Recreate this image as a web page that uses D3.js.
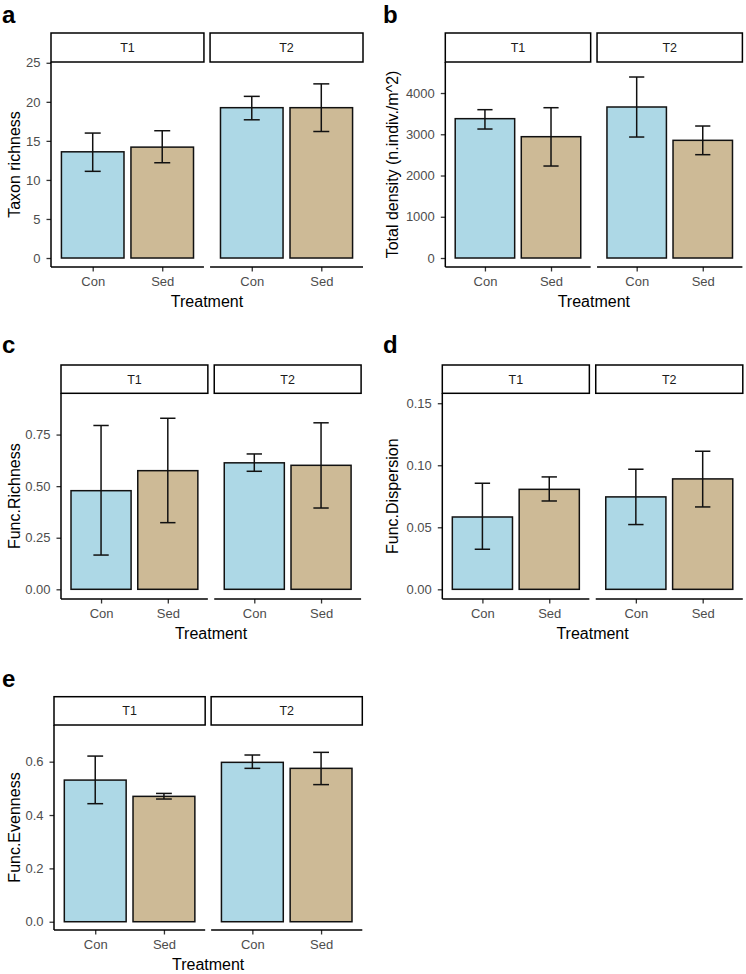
<!DOCTYPE html>
<html><head><meta charset="utf-8">
<script src="https://cdn.jsdelivr.net/npm/d3@7"></script>
<style>
body{margin:0;background:#fff;}
svg{display:block;font-family:"Liberation Sans",Arial,sans-serif;}
</style></head>
<body><svg id="c" width="746" height="974"></svg>
<script>
// ---- data ----
const facets = ["T1", "T2"];
const treatments = ["Con", "Sed"];
// order: T1-Con, T1-Sed, T2-Con, T2-Sed
const taxonMean = [13.6, 14.2, 19.25, 19.25];
const taxonLow  = [11.1, 12.2, 17.7, 16.2];
const taxonHigh = [16.0, 16.3, 20.7, 22.3];
const taxonTicks = [0, 5, 10, 15, 20, 25];

const densityMean = [3378, 2941, 3661, 2853];
const densityLow  = [3127, 2230, 2933, 2505];
const densityHigh = [3596, 3644, 4388, 3200];
const densityTicks = [0, 1000, 2000, 3000, 4000];

const fricMean = [0.478, 0.575, 0.613, 0.601];
const fricLow  = [0.166, 0.323, 0.572, 0.394];
const fricHigh = [0.794, 0.829, 0.656, 0.807];
const fricTicks = [0, 0.25, 0.5, 0.75];

const fdisMean = [0.0583, 0.0806, 0.0745, 0.089];
const fdisLow  = [0.0323, 0.0712, 0.0522, 0.0664];
const fdisHigh = [0.0855, 0.0906, 0.0968, 0.1113];
const fdisTicks = [0, 0.05, 0.10, 0.15];

const fevaMean = [0.531, 0.470, 0.5975, 0.575];
const fevaLow  = [0.4425, 0.460, 0.575, 0.514];
const fevaHigh = [0.621, 0.481, 0.625, 0.635];
const fevaTicks = [0, 0.2, 0.4, 0.6];

const colors = {Con: "#add8e6", Sed: "#cdba96"};

// ---- layout ----
const panels = [
  {tag:"a", tagX:2, tagY:23.3, x0:51, fw:150, gap:12, stripTop:33, top:62, bottom:267, dom:[-1.15,25.1],
   mean:taxonMean, low:taxonLow, high:taxonHigh, ticks:taxonTicks, fmt:d3.format("d"), ylab:"Taxon richness", ylabX:20},
  {tag:"b", tagX:383, tagY:23.3, x0:445.3, fw:142.3, gap:12.5, stripTop:33, top:62, bottom:267, dom:[-218,4752],
   mean:densityMean, low:densityLow, high:densityHigh, ticks:densityTicks, fmt:d3.format("d"), ylab:"Total density (n.indiv./m^2)", ylabX:397.5},
  {tag:"c", tagX:2, tagY:353.3, x0:61, fw:143.8, gap:12.5, stripTop:365, top:393.3, bottom:599, dom:[-0.047,0.950],
   mean:fricMean, low:fricLow, high:fricHigh, ticks:fricTicks, fmt:d3.format(".2f"), ylab:"Func.Richness", ylabX:20},
  {tag:"d", tagX:383, tagY:353.3, x0:442.3, fw:144, gap:12.5, stripTop:365, top:393.3, bottom:599, dom:[-0.0078,0.158],
   mean:fdisMean, low:fdisLow, high:fdisHigh, ticks:fdisTicks, fmt:d3.format(".2f"), ylab:"Func.Dispersion", ylabX:397.5},
  {tag:"e", tagX:2, tagY:686.7, x0:54, fw:148.3, gap:11.7, stripTop:696.7, top:725, bottom:930, dom:[-0.031,0.7375],
   mean:fevaMean, low:fevaLow, high:fevaHigh, ticks:fevaTicks, fmt:d3.format(".1f"), ylab:"Func.Evenness", ylabX:19.5}
];

const svg = d3.select("#c");
const FONT = "'Liberation Sans',Arial,sans-serif";

panels.forEach(p => {
  const g = svg.append("g");
  const y = d3.scaleLinear().domain(p.dom).range([p.bottom, p.top]);
  const fx = d3.scaleBand().domain(facets).range([p.x0, p.x0 + 2*p.fw + p.gap]).paddingInner(p.gap/(2*p.fw+p.gap)).paddingOuter(0);

  // panel tag
  g.append("text").attr("x", p.tagX).attr("y", p.tagY).attr("font-size", 24).attr("font-weight", "bold")
    .attr("fill", "#000").text(p.tag);

  facets.forEach((f, fi) => {
    const left = fx(f), w = fx.bandwidth();
    // ggplot geometry: categories at 0.6 and 1.6 units of a 2.2-unit range, bar width 0.9
    const ux = d3.scalePoint().domain(treatments).range([left + w*0.6/2.2, left + w*1.6/2.2]);
    const unit = w/2.2;

    // strip
    g.append("rect").attr("x", left).attr("y", p.stripTop).attr("width", w).attr("height", p.top - p.stripTop)
      .attr("fill", "#fff").attr("stroke", "#000").attr("stroke-width", 1.5);
    g.append("text").attr("x", left + w/2).attr("y", (p.stripTop + p.top)/2 + 4.5).attr("text-anchor", "middle")
      .attr("font-size", 12.5).attr("fill", "#1a1a1a").text(f);

    // bars
    treatments.forEach((t, ti) => {
      const i = fi*2 + ti;
      const cx = ux(t);
      g.append("rect").attr("x", cx - unit*0.45).attr("width", unit*0.9)
        .attr("y", y(p.mean[i])).attr("height", y(0) - y(p.mean[i]))
        .attr("fill", colors[t]).attr("stroke", "#111").attr("stroke-width", 1.5);
      const ew = unit*0.115;
      const eg = g.append("g").attr("stroke", "#111").attr("stroke-width", 1.5).attr("fill", "none");
      eg.append("line").attr("x1", cx).attr("x2", cx).attr("y1", y(p.low[i])).attr("y2", y(p.high[i]));
      eg.append("line").attr("x1", cx - ew).attr("x2", cx + ew).attr("y1", y(p.low[i])).attr("y2", y(p.low[i]));
      eg.append("line").attr("x1", cx - ew).attr("x2", cx + ew).attr("y1", y(p.high[i])).attr("y2", y(p.high[i]));
    });

    // x axis
    const xa = g.append("g").attr("transform", `translate(0,${p.bottom})`)
      .call(d3.axisBottom(ux).tickSize(4.5).tickPadding(5.5));
    xa.select(".domain").remove();
    xa.append("line").attr("x1", left).attr("x2", left + w).attr("stroke", "#000").attr("stroke-width", 1.5);
    xa.selectAll(".tick line").attr("stroke", "#333").attr("stroke-width", 1.3);
    xa.selectAll(".tick text").attr("fill", "#4d4d4d").attr("font-size", 13).attr("font-family", FONT);
  });

  // y axis
  const ya = g.append("g").attr("transform", `translate(${p.x0},0)`)
    .call(d3.axisLeft(y).tickValues(p.ticks).tickFormat(p.fmt).tickSize(4.5).tickPadding(6));
  ya.select(".domain").remove();
  ya.append("line").attr("y1", p.top).attr("y2", p.bottom).attr("stroke", "#000").attr("stroke-width", 1.5);
  ya.selectAll(".tick line").attr("stroke", "#333").attr("stroke-width", 1.3);
  ya.selectAll(".tick text").attr("fill", "#4d4d4d").attr("font-size", 13).attr("font-family", FONT);

  // axis titles
  const right = p.x0 + 2*p.fw + p.gap;
  g.append("text").attr("x", (p.x0 + right)/2).attr("y", p.bottom + 40).attr("text-anchor", "middle")
    .attr("font-size", 16).attr("fill", "#000").text("Treatment");
  g.append("text").attr("transform", `translate(${p.ylabX},${(p.top + p.bottom)/2}) rotate(-90)`)
    .attr("text-anchor", "middle").attr("font-size", 16).attr("fill", "#000").text(p.ylab);
});
</script></body></html>
